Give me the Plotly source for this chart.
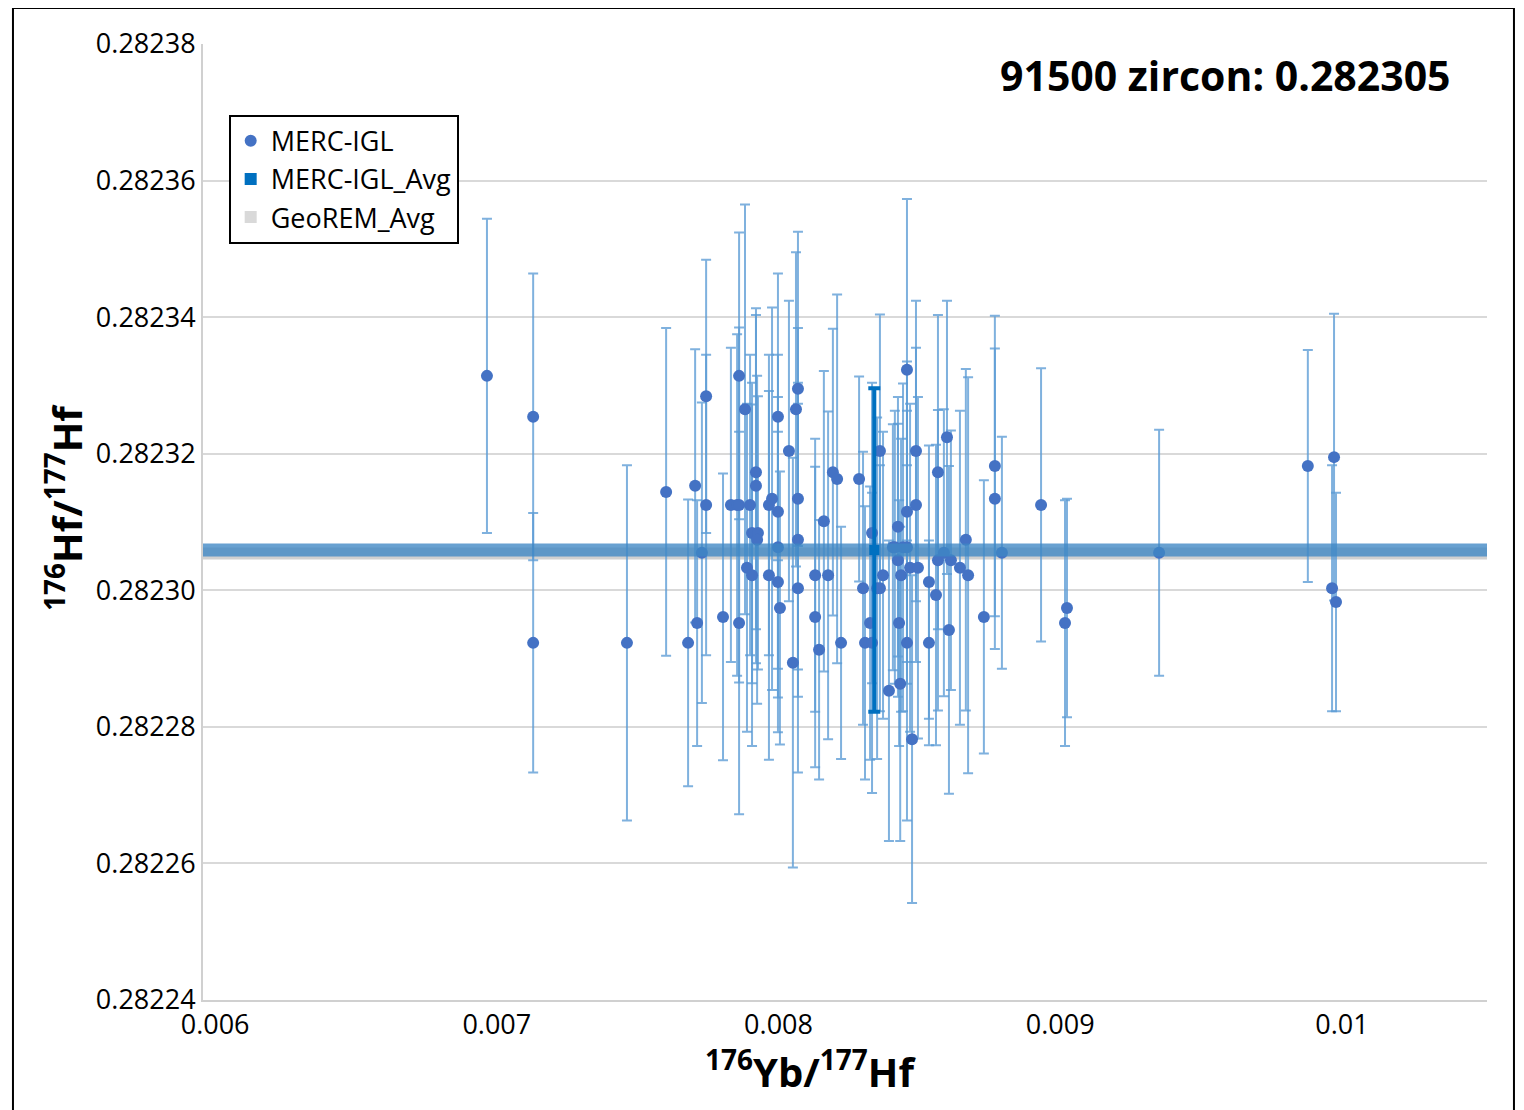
import plotly.graph_objects as go

# ---------------- data ----------------
yb_hf = [0.006965, 0.007129, 0.007129, 0.007462, 0.007601, 0.007679, 0.007704, 0.007711,
         0.007728, 0.007743, 0.007743, 0.007803, 0.007831, 0.007853, 0.007860, 0.007860,
         0.007860, 0.007881, 0.007888, 0.007906, 0.007899, 0.007920, 0.007920, 0.007906,
         0.007927, 0.007924, 0.007966, 0.007966, 0.007977, 0.007998, 0.007998, 0.007998,
         0.007998, 0.008005, 0.008037, 0.008051, 0.008062, 0.008069, 0.008069, 0.008069,
         0.008069, 0.008130, 0.008130, 0.008144, 0.008161, 0.008176, 0.008193, 0.008208,
         0.008222, 0.008286, 0.008300, 0.008307, 0.008332, 0.008325, 0.008332, 0.008350,
         0.008360, 0.008360, 0.008371, 0.008392, 0.008406, 0.008413, 0.008424, 0.008424,
         0.008428, 0.008432, 0.008435, 0.008442, 0.008456, 0.008456, 0.008456, 0.008456,
         0.008467, 0.008474, 0.008488, 0.008488, 0.008495, 0.008534, 0.008534, 0.008559,
         0.008566, 0.008566, 0.008587, 0.008598, 0.008605, 0.008612, 0.008644, 0.008665,
         0.008673, 0.008729, 0.008768, 0.008768, 0.008793, 0.008932, 0.009017, 0.009024,
         0.009351, 0.009879, 0.009972, 0.009965, 0.009979]
hf_hf = [0.2823314, 0.2823254, 0.2822923, 0.2822923, 0.2823144, 0.2822923, 0.2823153, 0.2822952,
         0.2823055, 0.2823284, 0.2823125, 0.2822961, 0.2823125, 0.2823125, 0.2823314, 0.2823125,
         0.2822952, 0.2823265, 0.2823033, 0.2823022, 0.2823125, 0.2823173, 0.2823153, 0.2823084,
         0.2823084, 0.2823074, 0.2823022, 0.2823125, 0.2823134, 0.2823254, 0.2823115, 0.2823063,
         0.2823012, 0.2822974, 0.2823204, 0.2822894, 0.2823265, 0.2823295, 0.2823134, 0.2823074,
         0.2823003, 0.2823022, 0.2822961, 0.2822913, 0.2823101, 0.2823022, 0.2823173, 0.2823163,
         0.2822923, 0.2823163, 0.2823003, 0.2822923, 0.2822923, 0.2822952, 0.2823084, 0.2823003,
         0.2823003, 0.2823204, 0.2823022, 0.2822853, 0.2823063, 0.2823063, 0.2823093, 0.2823044,
         0.2822952, 0.2822863, 0.2823022, 0.2823063, 0.2823323, 0.2823115, 0.2823063, 0.2822923,
         0.2823033, 0.2822782, 0.2823204, 0.2823125, 0.2823033, 0.2823012, 0.2822923, 0.2822993,
         0.2823173, 0.2823044, 0.2823055, 0.2823224, 0.2822942, 0.2823044, 0.2823033, 0.2823074,
         0.2823022, 0.2822961, 0.2823182, 0.2823134, 0.2823055, 0.2823125, 0.2822952, 0.2822974,
         0.2823055, 0.2823182, 0.2823195, 0.2823003, 0.2822983]
err_2se = [2.3e-5, 2.1e-5, 1.9e-5, 2.6e-5, 2.4e-5, 2.1e-5, 2.0e-5, 1.8e-5,
           2.2e-5, 2.0e-5, 2.2e-5, 2.1e-5, 2.3e-5, 2.5e-5, 2.1e-5, 2.6e-5,
           2.8e-5, 3.0e-5, 2.4e-5, 2.5e-5, 2.2e-5, 2.3e-5, 2.6e-5, 2.2e-5,
           2.0e-5, 2.4e-5, 2.7e-5, 2.2e-5, 2.8e-5, 2.1e-5, 2.3e-5, 2.2e-5,
           2.2e-5, 2.0e-5, 2.2e-5, 3.0e-5, 2.3e-5, 2.3e-5, 2.5e-5, 2.3e-5,
           2.7e-5, 2.0e-5, 2.2e-5, 1.9e-5, 2.2e-5, 2.4e-5, 2.1e-5, 2.7e-5,
           1.7e-5, 1.5e-5, 2.0e-5, 2.0e-5, 2.2e-5, 2.0e-5, 2.2e-5, 2.5e-5,
           1.8e-5, 2.0e-5, 2.1e-5, 2.2e-5, 1.8e-5, 2.0e-5, 1.9e-5, 2.0e-5,
           1.8e-5, 2.3e-5, 2.0e-5, 2.4e-5, 2.5e-5, 2.2e-5, 2.0e-5, 2.6e-5,
           2.4e-5, 2.4e-5, 2.2e-5, 2.3e-5, 2.5e-5, 2.0e-5, 1.5e-5, 2.2e-5,
           2.3e-5, 2.2e-5, 2.1e-5, 2.0e-5, 2.4e-5, 1.9e-5, 2.3e-5, 2.5e-5,
           2.9e-5, 2.0e-5, 2.2e-5, 2.2e-5, 1.7e-5, 2.0e-5, 1.8e-5, 1.6e-5,
           1.8e-5, 1.7e-5, 2.1e-5, 1.8e-5, 1.6e-5]

avg_x = [0.00834]
avg_y = [0.2823059]
avg_err = [2.37e-5]
georem_avg = 0.2823054

x_range = [0.005957, 0.010515]
y_range = [0.28224, 0.28238]
x_ticks = [0.006, 0.007, 0.008, 0.009, 0.010]
x_ticklabels = ["0.006", "0.007", "0.008", "0.009", "0.01"]
y_ticks = [0.28224, 0.28226, 0.28228, 0.28230, 0.28232, 0.28234, 0.28236, 0.28238]
y_ticklabels = ["0.28224", "0.28226", "0.28228", "0.28230", "0.28232", "0.28234", "0.28236", "0.28238"]

title_text = "91500 zircon: 0.282305"
x_title = "<b><sup>176</sup>Yb/<sup>177</sup>Hf</b>"
y_title = "<b><sup>176</sup>Hf/<sup>177</sup>Hf</b>"

FONT = "Open Sans"

fig = go.Figure()

# GeoREM average band (grey)
fig.add_trace(go.Scatter(
    x=x_range, y=[georem_avg, georem_avg], mode="lines",
    line=dict(color="rgba(200,200,200,0.85)", width=12),
    showlegend=False, hoverinfo="skip"))

# Sample points with error bars
fig.add_trace(go.Scatter(
    x=yb_hf, y=hf_hf, mode="markers", name="MERC-IGL",
    marker=dict(color="#4472C4", size=12, symbol="circle"),
    error_y=dict(type="data", array=err_2se, visible=True,
                 color="rgba(91,155,213,0.78)", thickness=2, width=5)))

# MERC-IGL average band (blue)
fig.add_trace(go.Scatter(
    x=x_range, y=[avg_y[0], avg_y[0]], mode="lines",
    line=dict(color="rgba(62,135,196,0.78)", width=13),
    showlegend=False, hoverinfo="skip"))

# MERC-IGL average point with error bar
fig.add_trace(go.Scatter(
    x=avg_x, y=avg_y, mode="markers", name="MERC-IGL_Avg",
    marker=dict(color="#0070C0", size=10, symbol="square"),
    error_y=dict(type="data", array=avg_err, visible=True,
                 color="#0070C0", thickness=4, width=6)))

# GeoREM legend entry
fig.add_trace(go.Scatter(
    x=[None], y=[None], mode="markers", name="GeoREM_Avg",
    marker=dict(color="#D9D9D9", size=10, symbol="square")))

fig.update_layout(
    width=1524, height=1110,
    paper_bgcolor="white", plot_bgcolor="white",
    margin=dict(l=195, r=45, t=36, b=118),
    font=dict(family=FONT, size=27, color="black"),
    showlegend=True,
    legend=dict(x=0.020, y=0.926, xanchor="left", yanchor="top",
                bgcolor="white", bordercolor="black", borderwidth=2,
                font=dict(family=FONT, size=27, color="black"),
                itemsizing="constant", tracegroupgap=0),
    xaxis=dict(range=x_range, tickvals=x_ticks, ticktext=x_ticklabels,
               showgrid=False, zeroline=False, showline=True,
               linecolor="#D0D0D0", linewidth=2, ticks="",
               tickfont=dict(family=FONT, size=27)),
    yaxis=dict(range=y_range, tickvals=y_ticks, ticktext=y_ticklabels,
               showgrid=True, gridcolor="#D9D9D9", gridwidth=2,
               zeroline=False, showline=True, linecolor="#D0D0D0", linewidth=2,
               ticks="", tickfont=dict(family=FONT, size=27)),
)

fig.add_annotation(text="<b>" + title_text + "</b>", xref="paper", yref="paper",
                   x=0.9735, y=0.9676, xanchor="right", yanchor="middle",
                   showarrow=False, font=dict(family=FONT, size=41, color="black"))

fig.add_annotation(text=x_title, xref="paper", yref="paper",
                   x=0.4735, y=-0.0732, xanchor="center", yanchor="middle",
                   showarrow=False, font=dict(family=FONT, size=40, color="black"))

fig.add_annotation(text=y_title, xref="paper", yref="paper", textangle=-90,
                   x=-0.1075, y=0.5157, xanchor="center", yanchor="middle",
                   showarrow=False, font=dict(family=FONT, size=40, color="black"))

# outer frame
fig.add_shape(type="rect", xref="paper", yref="paper",
              x0=-0.148, x1=1.021, y0=-0.2, y1=1.0377,
              line=dict(color="black", width=2), fillcolor="rgba(0,0,0,0)", layer="above")

fig.write_html("out.html")
